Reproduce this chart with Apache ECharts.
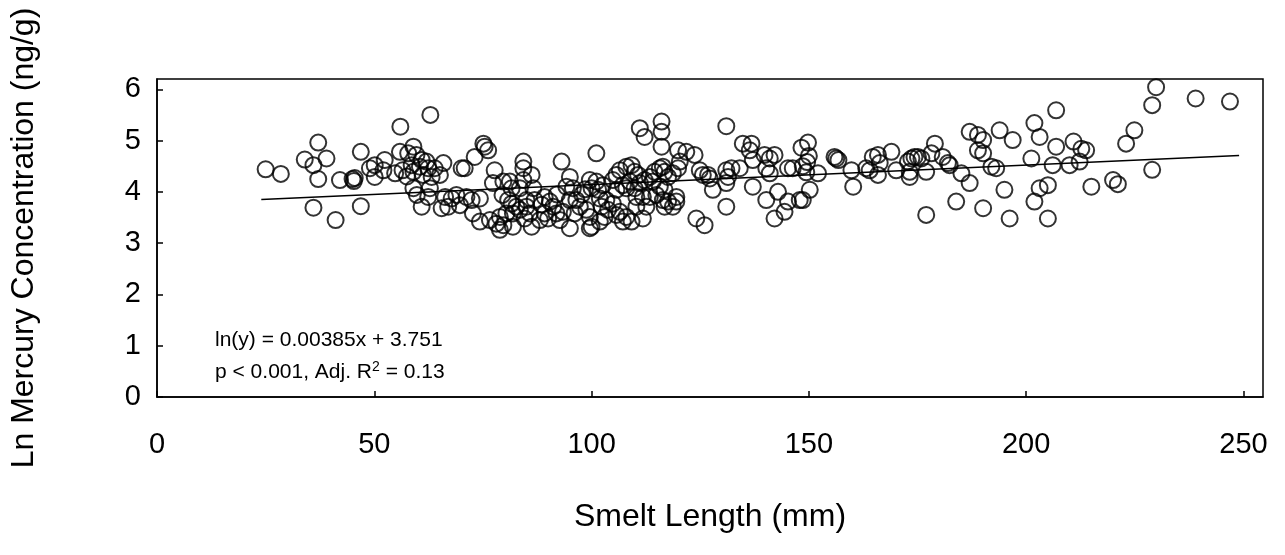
<!DOCTYPE html>
<html>
<head>
<meta charset="utf-8">
<script src="https://cdn.jsdelivr.net/npm/echarts@6/dist/echarts.min.js"></script>
<style>
html,body{margin:0;padding:0;background:#fff;}
#chart{width:1285px;height:555px;}
</style>
</head>
<body>
<div id="chart"></div>
<script>
// Smelt length (mm) of each fish
var smeltLength = [
  25.0,28.5,34.0,36.0,37.1,39.0,37.1,36.0,41.1,42.1,45.0,45.5,45.3,46.9,46.9,49.0,50.1,50.1,
  52.4,52.1,54.8,56.0,62.9,55.9,57.8,59.0,59.7,60.9,58.6,60.5,62.0,62.4,63.9,65.9,65.1,59.0,56.5,61.2,63.2,57.5,
  59.0,59.8,62.8,62.4,66.3,67.8,68.9,71.2,60.9,65.5,67.0,69.7,72.4,74.3,72.7,74.3,
  70.1,70.8,73.1,75.1,75.4,76.2,77.7,77.3,
  81.2,81.6,79.7,80.8,81.6,82.7,81.9,80.4,78.9,76.6,78.1,79.7,81.9,78.9,79.5,
  84.3,84.3,86.2,84.3,83.5,86.6,85.0,86.9,85.8,84.6,86.2,83.5,85.0,
  93.1,101.1,
  95.0,94.2,95.7,89.2,90.4,91.2,89.2,91.9,93.4,90.0,92.7,88.1,95.0,95.0,96.5,97.3,96.1,98.8,99.6,100.0,99.6,
  99.6,101.1,100.0,101.5,102.6,101.9,103.4,102.3,103.8,104.9,103.0,101.9,105.7,106.5,108.0,107.2,109.2,111.8,112.6,110.3,
  104.9,105.7,106.5,108.0,109.2,109.9,110.7,108.8,107.2,105.7,108.0,109.9,111.1,112.2,113.4,114.5,115.7,114.1,115.7,114.9,113.4,111.8,110.3,
  111.1,112.2,92.0,88.5,97.8,98.5,
  116.1,116.1,116.1,131.0,
  116.8,117.6,116.8,116.4,116.8,117.6,
  119.9,121.8,123.7,120.3,119.9,118.7,116.4,
  119.5,119.5,118.7,
  124.9,125.6,126.8,127.2,127.9,131.0,124.1,126.0,
  131.0,132.2,131.4,131.0,134.1,134.8,136.8,136.4,137.1,139.8,141.0,142.1,140.2,141.0,137.1,140.2,142.9,142.1,144.4,145.2,145.2,146.3,147.9,
  148.3,149.8,150.0,149.6,148.6,149.4,152.1,150.2,148.6,
  155.9,156.3,156.8,159.8,160.2,163.2,164.7,165.9,166.3,164.0,165.9,
  169.0,170.1,172.8,173.2,173.2,173.6,174.3,175.1,175.9,177.0,178.2,179.0,180.8,182.0,182.4,177.0,183.9,185.1,187.0,
  187.0,188.9,190.1,188.9,190.1,192.0,193.1,193.9,196.9,195.0,190.1,196.2,201.2,201.9,203.1,201.9,203.1,205.0,206.1,
  205.0,206.9,206.9,210.0,210.9,212.3,212.7,213.8,215.0,
  220.0,221.1,223.0,224.9,229.0,229.0,229.9,239.0,246.9
];
// Ln mercury concentration (ng/g), same order as smeltLength
var lnMercury = [
  4.44,4.35,4.63,4.52,4.96,4.65,4.25,3.69,3.45,4.23,4.25,4.27,4.21,4.78,3.72,4.46,4.52,4.29,
  4.62,4.42,4.36,5.27,5.50,4.78,4.75,4.88,4.72,4.62,4.52,4.49,4.59,4.46,4.46,4.56,4.33,4.39,4.42,4.33,4.29,4.30,
  4.07,3.94,4.07,3.90,3.90,3.87,3.94,3.90,3.71,3.68,3.71,3.74,3.84,3.87,3.58,3.42,
  4.46,4.46,4.68,4.94,4.88,4.81,4.42,4.17,
  4.20,4.07,4.20,3.84,3.77,3.71,3.58,3.58,3.51,3.45,3.38,3.35,3.32,3.26,3.94,
  4.59,4.46,4.33,4.23,4.07,4.07,3.84,3.84,3.58,3.48,3.32,3.65,3.71,
  4.59,4.75,
  4.29,4.10,4.07,3.90,3.81,3.71,3.58,3.58,3.61,3.48,3.45,3.45,3.29,3.84,3.84,3.71,3.58,3.65,3.51,3.32,3.29,
  4.23,4.20,4.07,4.04,4.13,3.87,3.84,3.71,3.65,3.77,3.51,3.42,3.55,3.61,3.51,3.42,3.42,3.48,3.71,3.71,
  4.23,4.33,4.42,4.49,4.52,4.39,4.33,4.20,4.13,4.04,4.07,4.07,4.17,4.23,4.29,4.39,4.46,4.20,4.10,3.94,3.90,3.90,3.90,
  5.24,5.07,3.95,3.75,3.95,4.05,
  5.37,5.17,4.88,5.28,
  4.39,4.29,4.04,3.84,3.71,3.81,
  4.81,4.78,4.72,4.59,4.46,4.36,4.49,
  3.90,3.81,3.71,
  4.42,4.33,4.33,4.26,4.04,3.71,3.48,3.35,
  4.42,4.46,4.29,4.17,4.46,4.94,4.94,4.81,4.62,4.72,4.65,4.72,4.46,4.36,4.10,3.84,4.00,3.48,3.61,3.81,4.46,4.46,3.84,
  4.86,4.96,4.70,4.58,4.50,4.38,4.36,4.04,3.84,
  4.68,4.65,4.62,4.42,4.10,4.46,4.68,4.72,4.56,4.42,4.33,
  4.78,4.42,4.59,4.39,4.29,4.65,4.68,4.68,4.65,4.39,4.75,4.94,4.68,4.56,4.52,3.55,3.81,4.36,4.17,
  5.17,5.11,5.01,4.81,4.75,4.49,4.46,5.20,5.01,4.04,3.68,3.48,4.65,5.34,5.07,3.81,4.07,4.13,4.52,
  3.48,5.59,4.88,4.52,4.98,4.59,4.84,4.81,4.10,
  4.23,4.15,4.94,5.20,4.43,5.69,6.04,5.82,5.76
];
// Fitted regression line end points
var fitX = [24, 249];
var fitY = [3.85, 4.71];
// Tick labels
var xTicks = [0, 50, 100, 150, 200, 250];
var yTicks = [0, 1, 2, 3, 4, 5, 6];

var FONT = "'Liberation Sans', Arial, sans-serif";
var points = smeltLength.map(function (x, i) { return [x, lnMercury[i]]; });
var fitLine = fitX.map(function (x, i) { return [x, fitY[i]]; });

var chart = echarts.init(document.getElementById('chart'), null, {renderer: 'canvas'});
chart.setOption({
  animation: false,
  backgroundColor: '#fff',
  grid: {left: 157, right: 22, top: 79, bottom: 158, show: true, borderColor: '#000', borderWidth: 1.5, backgroundColor: 'transparent'},
  xAxis: {
    type: 'value', min: xTicks[0], max: 254.5, interval: 50,
    axisLine: {show: true, onZero: false, lineStyle: {color: '#000', width: 1.5}},
    axisTick: {show: true, inside: true, length: 6, lineStyle: {color: '#000', width: 1.5}},
    splitLine: {show: false},
    axisLabel: {color: '#000', fontSize: 29, fontFamily: FONT, margin: 33, showMaxLabel: false,
      formatter: function (v) { return xTicks.indexOf(v) >= 0 ? String(v) : ''; }},
    name: 'Smelt Length (mm)', nameLocation: 'middle', nameGap: 104,
    nameTextStyle: {color: '#000', fontSize: 32, fontFamily: FONT}
  },
  yAxis: {
    type: 'value', min: yTicks[0], max: 6.2, interval: 1,
    axisLine: {show: true, onZero: false, lineStyle: {color: '#000', width: 1.5}},
    axisTick: {show: true, inside: true, length: 6, lineStyle: {color: '#000', width: 1.5}},
    splitLine: {show: false},
    axisLabel: {color: '#000', fontSize: 29, fontFamily: FONT, margin: 16, showMaxLabel: false,
      formatter: function (v) { return yTicks.indexOf(v) >= 0 ? String(v) : ''; }},
    name: 'Ln Mercury Concentration (ng/g)', nameLocation: 'middle', nameGap: 117,
    nameTextStyle: {color: '#000', fontSize: 32, fontFamily: FONT}
  },
  series: [
    {
      type: 'scatter', data: points, symbol: 'circle', symbolSize: 16,
      itemStyle: {color: 'rgba(0,0,0,0)', borderColor: '#000', borderWidth: 2},
      z: 3
    },
    {
      type: 'line', data: fitLine, showSymbol: false, symbol: 'none',
      lineStyle: {color: '#000', width: 1.5}, z: 2
    }
  ],
  graphic: [
    {type: 'text', x: 215, y: 340, silent: true,
      style: {text: 'ln(y) = 0.00385x + 3.751', fill: '#000', font: '21px ' + FONT, align: 'left', verticalAlign: 'middle'}},
    {type: 'text', x: 215, y: 372, silent: true,
      style: {text: '{n|p < 0.001, Adj. R}{s|2}{n| = 0.13}', fill: '#000', align: 'left', verticalAlign: 'middle',
        rich: {
          n: {fontSize: 21, fontFamily: FONT, lineHeight: 24, fill: '#000', color: '#000'},
          s: {fontSize: 14, fontFamily: FONT, lineHeight: 12, verticalAlign: 'top', fill: '#000', color: '#000'}
        }}}
  ]
});
</script>
</body>
</html>
